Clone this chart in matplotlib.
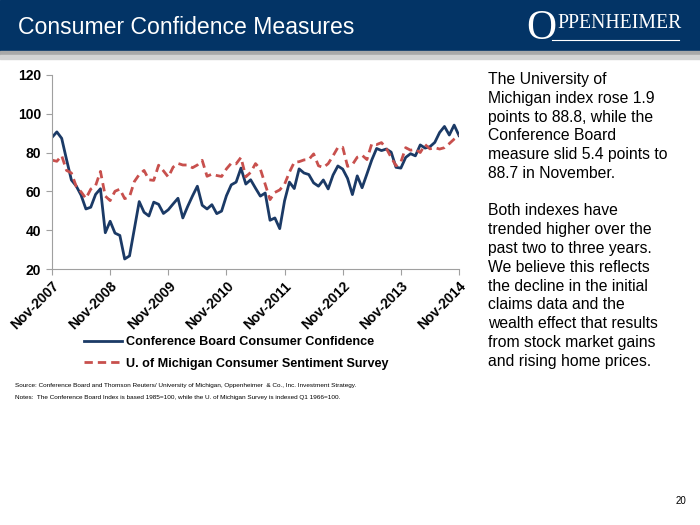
import numpy as np
import matplotlib.pyplot as plt
from matplotlib.patches import Rectangle
from matplotlib.lines import Line2D

plt.rcParams['font.family'] = ['Liberation Sans', 'DejaVu Sans']

# Monthly index values, Nov-2007 .. Nov-2014
conf_board = [87.8, 90.6,
              87.3, 76.4, 65.9, 62.8, 58.1, 51.0, 51.9, 58.5, 61.4, 38.8, 44.7, 38.6,
              37.4, 25.3, 26.9, 40.8, 54.8, 49.3, 47.4, 54.5, 53.4, 48.7, 50.6, 53.6,
              56.5, 46.4, 52.3, 57.7, 62.7, 52.9, 51.0, 53.2, 48.6, 49.9, 57.8, 63.4,
              64.8, 72.0, 63.8, 66.0, 61.7, 57.6, 59.2, 45.2, 46.4, 40.9, 55.2, 64.8,
              61.5, 71.6, 69.5, 68.7, 64.4, 62.7, 65.9, 61.3, 68.4, 73.1, 71.5, 66.7,
              58.4, 68.0, 61.9, 69.0, 76.2, 82.1, 81.0, 81.8, 80.2, 72.4, 72.0, 77.5,
              79.4, 78.3, 83.9, 82.3, 83.0, 85.2, 90.3, 93.4, 89.0, 94.1, 88.7]
michigan = [76.1, 75.5,
            78.4, 70.8, 69.5, 62.6, 59.8, 56.4, 61.2, 63.0, 70.3, 57.6, 55.3, 60.1,
            61.2, 56.3, 57.3, 65.1, 68.7, 70.8, 66.0, 65.7, 73.5, 70.6, 67.4, 72.5,
            74.4, 73.6, 73.6, 72.2, 73.6, 76.0, 67.8, 68.9, 68.2, 67.7, 71.6, 74.5,
            74.2, 77.5, 67.5, 69.8, 74.3, 71.5, 63.7, 55.8, 59.5, 60.8, 63.7, 69.9,
            75.0, 75.3, 76.2, 76.4, 79.3, 73.2, 72.3, 74.3, 78.3, 82.6, 82.7, 72.9,
            73.8, 77.6, 78.6, 76.4, 84.5, 84.1, 85.1, 82.1, 77.5, 73.2, 75.1, 82.5,
            81.2, 81.6, 80.0, 84.1, 81.9, 82.5, 81.8, 82.5, 84.6, 86.9, 88.8]
tick_labels = ['Nov-2007', 'Nov-2008', 'Nov-2009', 'Nov-2010',
               'Nov-2011', 'Nov-2012', 'Nov-2013', 'Nov-2014']
series_names = ['Conference Board Consumer Confidence',
                'U. of Michigan Consumer Sentiment Survey']

blue = '#1b3a66'
red = '#c8504d'
dash = (0, (3, 1.8))

fig = plt.figure(figsize=(7, 5.25), dpi=100)

# header band
bg = fig.add_axes([0, 0, 1, 1])
bg.set_xlim(0, 700)
bg.set_ylim(525, 0)
bg.axis('off')
bg.add_patch(Rectangle((0, 0), 700, 51, color='#033466'))
bg.add_patch(Rectangle((0, 51), 700, 4, color='#a9a9a9'))
bg.add_patch(Rectangle((0, 55), 700, 4, color='#d4d4d4'))
bg.text(18, 28, 'Consumer Confidence Measures', color='white',
        fontsize=16.6, va='center', ha='left')
bg.text(556, 29, 'O', color='white', fontsize=30, va='center', ha='right',
        family='Liberation Serif')
bg.text(557, 24, 'PPENHEIMER', color='white', fontsize=14.2, va='center',
        ha='left', family='Liberation Serif')
bg.plot([552, 679], [40, 40], color='white', lw=0.8)

# commentary on the right
comment = ("The University of\nMichigan index rose 1.9\npoints to 88.8, while the\n"
           "Conference Board\nmeasure slid 5.4 points to\n88.7 in November.\n\n"
           "Both indexes have\ntrended higher over the\npast two to three years.\n"
           "We believe this reflects\nthe decline in the initial\nclaims data and the\n"
           "wealth effect that results\nfrom stock market gains\nand rising home prices.")
bg.text(488, 72, comment, fontsize=11.3, va='top', ha='left', linespacing=1.315)

bg.text(15, 386, 'Source: Conference Board and Thomson Reuters/ University of Michigan, '
        'Oppenheimer  & Co., Inc. Investment Strategy.', fontsize=4.6, va='center')
bg.text(15, 397, 'Notes:  The Conference Board Index is based 1985=100, while the U. of '
        'Michigan Survey is indexed Q1 1966=100.', fontsize=4.6, va='center')
bg.text(686, 501, '20', fontsize=7, va='center', ha='right')

# chart
ax = fig.add_axes([52 / 700, 1 - 269.3 / 525, 407 / 700, 194.6 / 525])
x = np.arange(len(conf_board))
ax.plot(x, conf_board, color=blue, lw=2.0, label=series_names[0])
ax.plot(x, michigan, color=red, lw=2.0, ls=dash, label=series_names[1])
ax.set_xlim(0, 84)
ax.set_ylim(20, 120)
ax.set_yticks(range(20, 121, 20))
ax.set_xticks(range(0, 85, 12))
ax.set_xticklabels(tick_labels, rotation=45, ha='right', rotation_mode='anchor')
for lab in ax.get_xticklabels() + ax.get_yticklabels():
    lab.set_fontweight('bold')
    lab.set_fontsize(10)
ax.tick_params(axis='x', length=4, color='#a0a0a0', pad=3)
ax.tick_params(axis='y', length=4, color='#a0a0a0', pad=4)
for s in ['top', 'right']:
    ax.spines[s].set_visible(False)
for s in ['left', 'bottom']:
    ax.spines[s].set_color('#a0a0a0')

handles = [Line2D([], [], color=blue, lw=2.0),
           Line2D([], [], color=red, lw=2.0, ls=dash)]
fig.legend(handles, series_names, loc='center', bbox_to_anchor=(236 / 700, 1 - 353 / 525),
           frameon=False, handlelength=3.0, handletextpad=0.3, labelspacing=0.75,
           prop={'weight': 'bold', 'size': 9.1})

fig.savefig('out.png', dpi=100)
